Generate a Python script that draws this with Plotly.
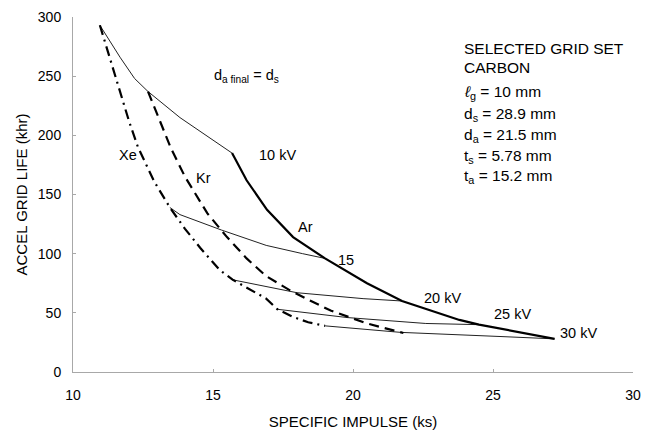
import plotly.graph_objects as go

# ---- data ----
ar_isp = [15.68, 16.2, 16.93, 17.86, 19.0, 20.5, 21.75, 23.8, 24.5, 27.2]
ar_life = [185, 162, 137, 114, 96, 75, 60, 44, 40, 28]

kr_isp = [12.68, 13.5, 14.0, 14.8, 15.5, 16.2, 16.9, 17.75, 18.5, 19.2, 20.5, 21.8]
kr_life = [237, 189, 165, 134, 114, 96, 81, 69, 60, 52, 41, 33]

xe_isp = [10.96, 11.6, 12.0, 12.32, 12.9, 13.46, 14.0, 14.54, 15.25, 15.7, 16.3, 16.9, 17.3, 17.86, 18.4, 19.0]
xe_life = [293, 243, 212, 190, 161, 139, 121, 105, 86, 78, 70, 62, 53, 46.5, 42, 39]

kv10_isp = [10.96, 11.68, 12.2, 12.68, 13.82, 14.79, 15.68]
kv10_life = [293, 266, 248, 237, 215, 199, 185]
kv15_isp = [13.46, 13.82, 15.3, 16.9, 18.2, 19.0]
kv15_life = [139, 133, 120, 107, 100, 96]
kv20_isp = [15.68, 18.0, 20.36, 21.75]
kv20_life = [78, 67, 62, 60]
kv25_isp = [17.3, 19.8, 22.6, 24.5]
kv25_life = [53, 46, 41, 40]
kv30_isp = [19.0, 21.7, 25.25, 27.2]
kv30_life = [39, 33.5, 30, 28]

x_ticks = [10, 15, 20, 25, 30]
y_ticks = [0, 50, 100, 150, 200, 250, 300]

FONT = "Liberation Sans, Arial, sans-serif"

fig = go.Figure()

for xs, ys in [(kv10_isp, kv10_life), (kv15_isp, kv15_life), (kv20_isp, kv20_life),
               (kv25_isp, kv25_life), (kv30_isp, kv30_life)]:
    fig.add_trace(go.Scatter(x=xs, y=ys, mode="lines",
                             line=dict(color="#222", width=1), showlegend=False,
                             hoverinfo="skip"))

fig.add_trace(go.Scatter(x=ar_isp, y=ar_life, mode="lines", name="Ar",
                         line=dict(color="#000", width=2.2), showlegend=False))
fig.add_trace(go.Scatter(x=kr_isp, y=kr_life, mode="lines", name="Kr",
                         line=dict(color="#000", width=2.2, dash="10px,6px"), showlegend=False))
fig.add_trace(go.Scatter(x=xe_isp, y=xe_life, mode="lines", name="Xe",
                         line=dict(color="#000", width=2.2, dash="10px,5px,2px,5px"), showlegend=False))

labels = [
    ("10 kV", 17.32, 183.4), ("Ar", 18.29, 122.6), ("15", 19.75, 94.7),
    ("20 kV", 23.18, 62.6), ("25 kV", 25.68, 49), ("30 kV", 28.04, 33),
    ("Kr", 14.65, 164), ("Xe", 11.96, 183.4),
    ("d<sub>a final</sub> = d<sub>s</sub>", 16.18, 250),
]
for t, x, y in labels:
    fig.add_annotation(x=x, y=y, text=t, showarrow=False,
                       font=dict(family=FONT, size=14.5, color="#000"),
                       xanchor="center", yanchor="middle")

block = [
    ("SELECTED GRID SET", 273), ("CARBON", 257),
    ("<i>ℓ</i><sub>g</sub> = 10 mm", 235.8), ("d<sub>s</sub> = 28.9 mm", 217.2),
    ("d<sub>a</sub> = 21.5 mm", 199.5), ("t<sub>s</sub> = 5.78 mm", 181.7),
    ("t<sub>a</sub> = 15.2 mm", 164.8),
]
for t, y in block:
    fig.add_annotation(x=23.89, y=y, text=t, showarrow=False,
                       font=dict(family=FONT, size=15.5, color="#000"),
                       xanchor="left", yanchor="middle")

axis_common = dict(showgrid=False, zeroline=False, showline=True, linecolor="#a8a8a8",
                   linewidth=1, ticks="inside", ticklen=3, tickcolor="#a8a8a8",
                   tickfont=dict(family=FONT, size=14, color="#000"), mirror=False)

fig.update_xaxes(range=[10, 30], tickvals=x_ticks, ticklabelstandoff=10,
                 title=dict(text="SPECIFIC IMPULSE (ks)", font=dict(family=FONT, size=15, color="#000"),
                            standoff=14),
                 **axis_common)
fig.update_yaxes(range=[0, 300], tickvals=y_ticks, ticklabelstandoff=8,
                 title=dict(text="ACCEL GRID LIFE (khr)", font=dict(family=FONT, size=15, color="#000"),
                            standoff=6),
                 **axis_common)

fig.update_layout(width=652, height=430, margin=dict(l=73, r=19, t=17, b=58, autoexpand=False),
                  plot_bgcolor="white", paper_bgcolor="white", showlegend=False)

fig.write_html("out.html", config={"displayModeBar": False},
               post_script="document.body.style.margin='0';document.body.style.overflow='hidden';")
